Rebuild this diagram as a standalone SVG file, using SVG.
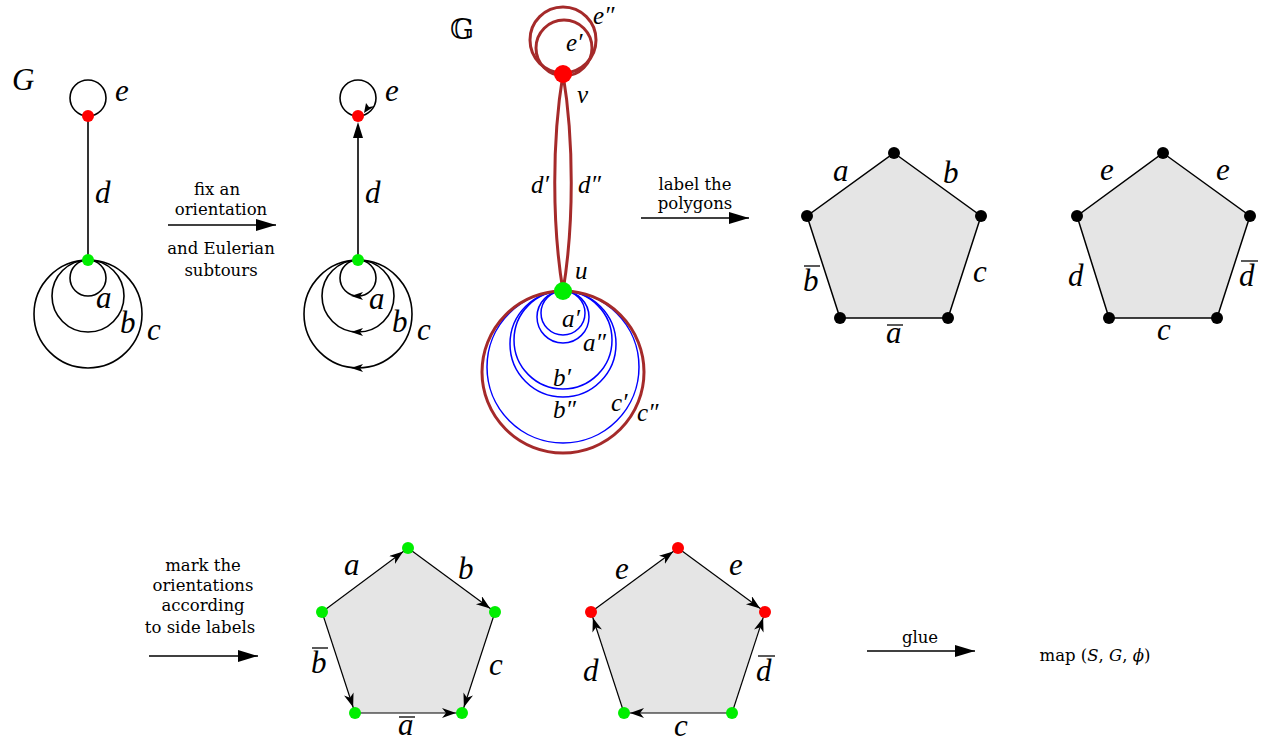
<svg xmlns="http://www.w3.org/2000/svg" width="1270" height="742" viewBox="0 0 1270 742">
<style>
.bk{fill:none;stroke:#000;stroke-width:1.6}
.br{fill:none;stroke:#a52a2a;stroke-width:3}
.bl{fill:none;stroke:#0000ff;stroke-width:1.5}
.m{font-family:"Liberation Serif","Times New Roman","DejaVu Serif",serif;font-style:italic;fill:#000;font-size:31px}
.s{font-family:"Liberation Serif","Times New Roman","DejaVu Serif",serif;font-style:italic;fill:#000;font-size:25px}
.t{font-family:"DejaVu Serif","Liberation Serif",serif;font-size:16.5px;fill:#000;text-anchor:middle}
.poly{fill:#e5e5e5;stroke:none}
.ea{stroke:#000;stroke-width:1.2;marker-end:url(#st)}
.ov{stroke:#000;stroke-width:1.3}
</style>
<defs>
<marker id="lx" markerUnits="userSpaceOnUse" markerWidth="22" markerHeight="14" refX="20" refY="6" orient="auto"><path d="M0,0 L20,6 L0,12 z" fill="#000"/></marker>
<marker id="st" markerUnits="userSpaceOnUse" markerWidth="22" markerHeight="12" refX="20" refY="5" orient="auto"><path d="M0,0 L14,5 L0,10 L4,5 z" fill="#000"/></marker>
</defs>

<g id="graphG">
<text class="m" x="12" y="90">G</text>
<circle class="bk" cx="88" cy="98" r="18"/>
<line class="bk" x1="88" y1="116" x2="88" y2="260"/>
<circle class="bk" cx="88" cy="278" r="18"/>
<circle class="bk" cx="88" cy="296" r="36"/>
<circle class="bk" cx="88" cy="314" r="54"/>
<circle cx="88" cy="116" r="6" fill="#ff0000"/>
<circle cx="88" cy="260" r="6" fill="#00ee00"/>
<text class="m" x="115" y="101">e</text>
<text class="m" x="95" y="203">d</text>
<text class="m" x="96" y="308">a</text>
<text class="m" x="120" y="333">b</text>
<text class="m" x="147" y="340">c</text>
</g>

<g id="graphOriented">
<circle class="bk" cx="358" cy="98" r="18"/>
<line class="bk" x1="358" y1="260" x2="358" y2="135"/>
<polygon points="358,122 353,138 363,138" fill="#000"/>
<polygon points="364,113 366,103 369,107 375,106" fill="#000"/>
<circle class="bk" cx="358" cy="278" r="18"/>
<circle class="bk" cx="358" cy="296" r="36"/>
<circle class="bk" cx="358" cy="314" r="54"/>
<polygon points="351,296 363,292 360,296 363,300" fill="#000"/>
<polygon points="351,332 363,328 360,332 363,336" fill="#000"/>
<polygon points="351,368 363,364 360,368 363,372" fill="#000"/>
<circle cx="358" cy="116" r="6" fill="#ff0000"/>
<circle cx="358" cy="260" r="6" fill="#00ee00"/>
<text class="m" x="385" y="101">e</text>
<text class="m" x="365" y="203">d</text>
<text class="m" x="369" y="309">a</text>
<text class="m" x="392" y="332">b</text>
<text class="m" x="417" y="340">c</text>
</g>

<g id="graphDouble">
<text x="450" y="39" font-family="DejaVu Serif,DejaVu Sans,serif" font-size="28">𝔾</text>
<circle class="br" cx="563" cy="40" r="33"/>
<circle class="br" cx="564" cy="48" r="28"/>
<path class="br" d="M563,74 C552,140 552,225 563,291"/>
<path class="br" d="M563,74 C574,140 574,225 563,291"/>
<circle class="bl" cx="563" cy="313" r="22"/>
<circle class="bl" cx="563" cy="317" r="26"/>
<circle class="bl" cx="563" cy="340" r="49"/>
<circle class="bl" cx="563" cy="344" r="53"/>
<circle class="bl" cx="563" cy="367" r="76"/>
<circle class="br" cx="563" cy="372" r="81"/>
<circle cx="563" cy="74" r="9" fill="#ff0000"/>
<circle cx="563" cy="291" r="9" fill="#00ee00"/>
<text class="s" x="593" y="24">e″</text>
<text class="s" x="566" y="51">e′</text>
<text class="s" x="577" y="103">v</text>
<text class="s" x="531" y="193">d′</text>
<text class="s" x="578" y="193">d″</text>
<text class="s" x="575" y="279">u</text>
<text class="s" x="562" y="327">a′</text>
<text class="s" x="583" y="351">a″</text>
<text class="s" x="553" y="386">b′</text>
<text class="s" x="553" y="418">b″</text>
<text class="s" x="611" y="411">c′</text>
<text class="s" x="637" y="421">c″</text>
</g>

<g id="pentagonA">
<polygon class="poly" points="894,153 981,216 948,318 840,318 807,216"/>
<polygon points="894,153 981,216 948,318 840,318 807,216" fill="none" stroke="#000" stroke-width="1.5"/>
<circle cx="894" cy="153" r="6"/><circle cx="981" cy="216" r="6"/><circle cx="948" cy="318" r="6"/><circle cx="840" cy="318" r="6"/><circle cx="807" cy="216" r="6"/>
<text class="m" x="833" y="181">a</text>
<text class="m" x="943" y="183">b</text>
<text class="m" x="803" y="291">b</text>
<line class="ov" x1="804" y1="266" x2="820" y2="266"/>
<text class="m" x="973" y="282">c</text>
<text class="m" x="886" y="343">a</text>
<line class="ov" x1="887" y1="325" x2="903" y2="325"/>
</g>

<g id="pentagonB">
<polygon class="poly" points="1163,153 1250,216 1217,318 1109,318 1077,216"/>
<polygon points="1163,153 1250,216 1217,318 1109,318 1077,216" fill="none" stroke="#000" stroke-width="1.5"/>
<circle cx="1163" cy="153" r="6"/><circle cx="1250" cy="216" r="6"/><circle cx="1217" cy="318" r="6"/><circle cx="1109" cy="318" r="6"/><circle cx="1077" cy="216" r="6"/>
<text class="m" x="1100" y="180">e</text>
<text class="m" x="1216" y="180">e</text>
<text class="m" x="1068" y="286">d</text>
<text class="m" x="1239" y="286">d</text>
<line class="ov" x1="1241" y1="261" x2="1258" y2="261"/>
<text class="m" x="1157" y="340">c</text>
</g>

<g id="pentagonC">
<polygon class="poly" points="408,548 495,612 462,713 355,713 322,612"/>
<line class="ea" x1="322" y1="612" x2="408" y2="548"/>
<line class="ea" x1="408" y1="548" x2="495" y2="612"/>
<line class="ea" x1="322" y1="612" x2="355" y2="713"/>
<line class="ea" x1="495" y1="612" x2="462" y2="713"/>
<line class="ea" x1="355" y1="713" x2="462" y2="713"/>
<circle cx="408" cy="548" r="6" fill="#00ee00"/><circle cx="495" cy="612" r="6" fill="#00ee00"/><circle cx="462" cy="713" r="6" fill="#00ee00"/><circle cx="355" cy="713" r="6" fill="#00ee00"/><circle cx="322" cy="612" r="6" fill="#00ee00"/>
<text class="m" x="344" y="575">a</text>
<text class="m" x="458" y="579">b</text>
<text class="m" x="311" y="673">b</text>
<line class="ov" x1="312" y1="648" x2="328" y2="648"/>
<text class="m" x="489" y="675">c</text>
<text class="m" x="398" y="735">a</text>
<line class="ov" x1="399" y1="717" x2="415" y2="717"/>
</g>

<g id="pentagonD">
<polygon class="poly" points="678,548 765,612 732,713 624,713 591,612"/>
<line class="ea" x1="591" y1="612" x2="678" y2="548"/>
<line class="ea" x1="678" y1="548" x2="765" y2="612"/>
<line class="ea" x1="624" y1="713" x2="591" y2="612"/>
<line class="ea" x1="732" y1="713" x2="765" y2="612"/>
<line class="ea" x1="732" y1="713" x2="624" y2="713"/>
<circle cx="678" cy="548" r="6" fill="#ff0000"/><circle cx="765" cy="612" r="6" fill="#ff0000"/><circle cx="732" cy="713" r="6" fill="#00ee00"/><circle cx="624" cy="713" r="6" fill="#00ee00"/><circle cx="591" cy="612" r="6" fill="#ff0000"/>
<text class="m" x="615" y="579">e</text>
<text class="m" x="729" y="575">e</text>
<text class="m" x="583" y="681">d</text>
<text class="m" x="756" y="681">d</text>
<line class="ov" x1="758" y1="656" x2="775" y2="656"/>
<text class="m" x="674" y="736">c</text>
</g>

<g id="connectors">
<line x1="168" y1="225" x2="276" y2="225" stroke="#000" stroke-width="1.3" marker-end="url(#lx)"/>
<line x1="641" y1="218" x2="749" y2="218" stroke="#000" stroke-width="1.3" marker-end="url(#lx)"/>
<line x1="149" y1="656" x2="258" y2="656" stroke="#000" stroke-width="1.3" marker-end="url(#lx)"/>
<line x1="867" y1="651" x2="975" y2="651" stroke="#000" stroke-width="1.3" marker-end="url(#lx)"/>
</g>
<g id="captions">
<text class="t" x="217" y="195">fix an</text>
<text class="t" x="221" y="215">orientation</text>
<text class="t" x="221" y="254">and Eulerian</text>
<text class="t" x="221" y="276">subtours</text>
<text class="t" x="695" y="190">label the</text>
<text class="t" x="695" y="209">polygons</text>
<text class="t" x="203" y="571">mark the</text>
<text class="t" x="203" y="591">orientations</text>
<text class="t" x="203" y="611">according</text>
<text class="t" x="200" y="633">to side labels</text>
<text class="t" x="920" y="643">glue</text>
<text class="t" x="1095" y="661">map (<tspan font-style="italic">S</tspan>, <tspan font-style="italic">G</tspan>, <tspan font-style="italic">ϕ</tspan>)</text>
</g>
</svg>
